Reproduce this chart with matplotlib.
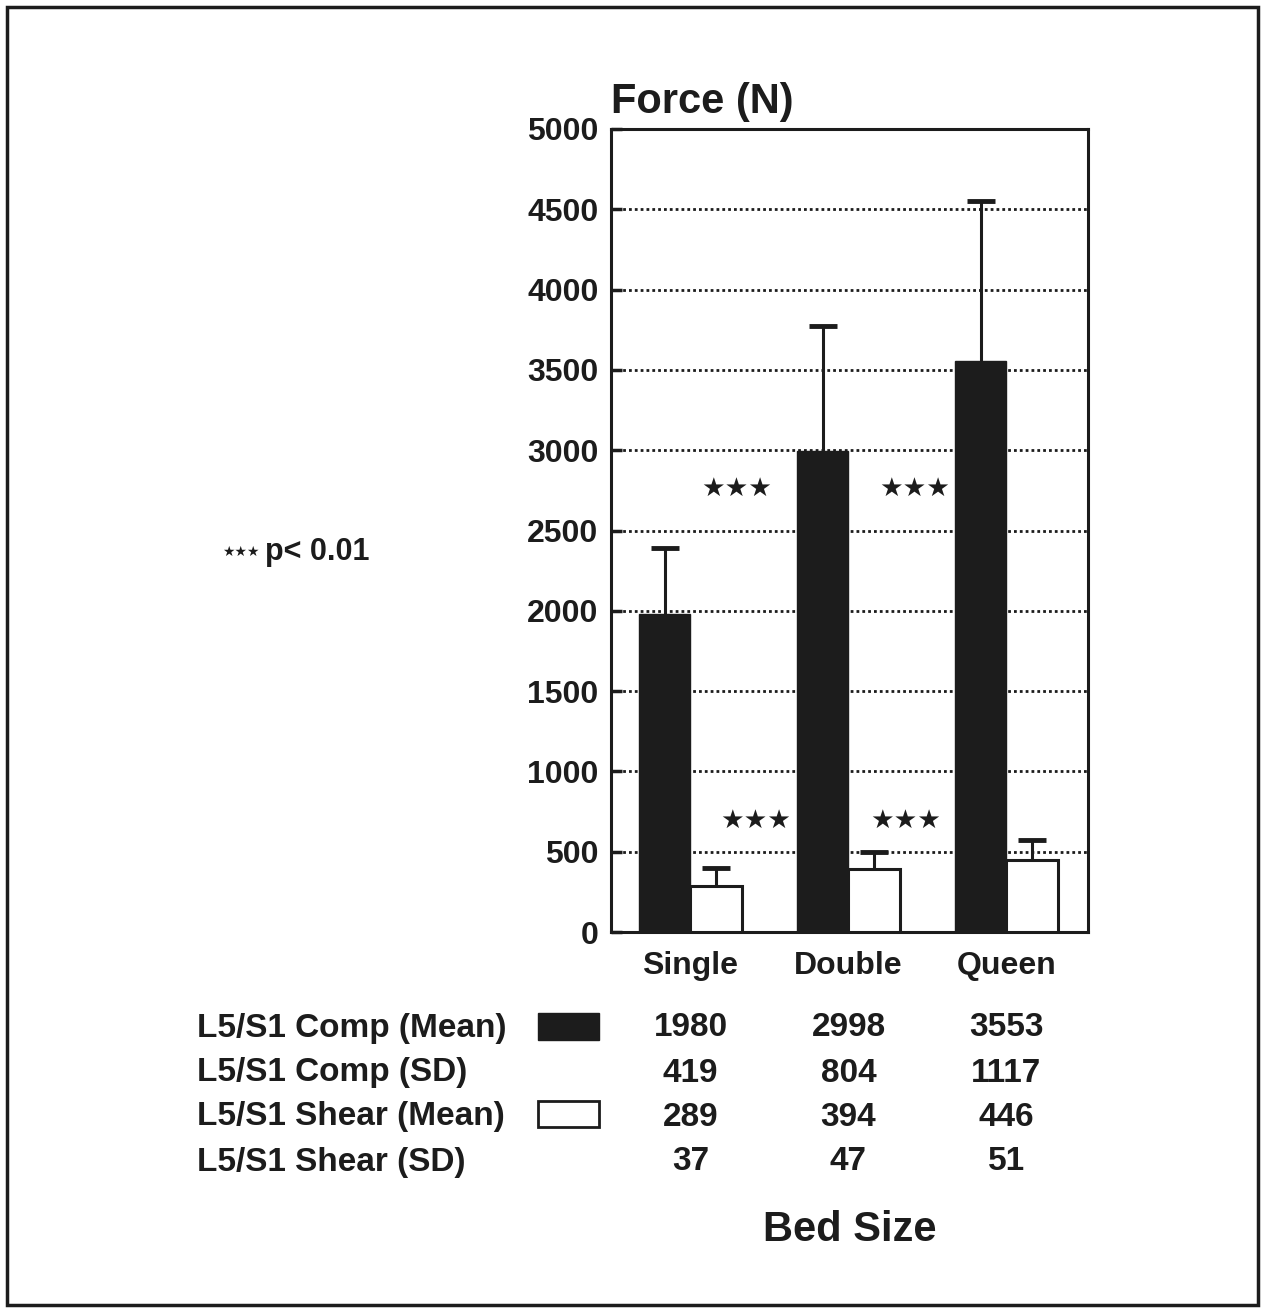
import matplotlib.pyplot as plt
from matplotlib.patches import Rectangle
from matplotlib.transforms import blended_transform_factory

plt.rcParams["font.family"] = ["Liberation Sans", "DejaVu Sans"]
plt.rcParams["font.weight"] = "bold"

# Data (table values in the figure)
beds = ["Single", "Double", "Queen"]
comp_mean = [1980, 2998, 3553]
comp_sd = [419, 804, 1117]
shear_mean = [289, 394, 446]
shear_sd = [37, 47, 51]
# error bar lengths as drawn in the figure
comp_err_drawn = [411, 775, 1000]
shear_err_drawn = [109, 104, 127]
row_labels = ["L5/S1 Comp (Mean)", "L5/S1 Comp (SD)",
              "L5/S1 Shear (Mean)", "L5/S1 Shear (SD)"]
rows = [comp_mean, comp_sd, shear_mean, shear_sd]
yticks = [0, 500, 1000, 1500, 2000, 2500, 3000, 3500, 4000, 4500, 5000]
# significance stars: (x position between groups, force level)
stars_x = [0.29, 1.42, 0.41, 1.36]
stars_y = [2760, 2760, 690, 690]

W, H = 1269, 1310
ink = "#1c1c1c"
fig = plt.figure(figsize=(W / 100, H / 100), dpi=100)
ax = fig.add_axes([611 / W, 1 - 932 / H, (1088 - 611) / W, (932 - 129) / H])

x = list(range(len(beds)))
bw = 0.323
xc = [i - bw / 2 for i in x]
xs = [i + bw / 2 for i in x]
ax.bar(xc, comp_mean, width=bw, color=ink, edgecolor=ink, lw=1, zorder=3)
ax.bar(xs, shear_mean, width=bw, color="white", edgecolor=ink, lw=2.2, zorder=3)
for xx, m, e in [(xc, comp_mean, comp_err_drawn), (xs, shear_mean, shear_err_drawn)]:
    eb = ax.errorbar(xx, m, yerr=[[0] * 3, e], fmt="none", ecolor=ink,
                     elinewidth=2.2, capsize=10, capthick=3.5, zorder=4)
    eb[1][0].set_visible(False)  # no cap at the bar top

for sx, sy in zip(stars_x, stars_y):
    ax.text(sx, sy, "★★★", family="DejaVu Sans", fontsize=19,
            ha="center", va="center", color=ink)

ax.set_xlim(-0.503, 2.516)
ax.set_ylim(0, 5000)
ax.set_yticks(yticks)
ax.set_xticks(x)
ax.set_xticklabels(beds)
ax.set_axisbelow(True)
ax.yaxis.grid(True, linestyle=(0, (1, 1.1)), color=ink, lw=2)
ax.tick_params(axis="y", direction="in", length=8, width=2.5, pad=9,
               labelsize=23, colors=ink)
ax.tick_params(axis="x", length=0, pad=14, labelsize=23, colors=ink)
for s in ax.spines.values():
    s.set_linewidth(2.2)
    s.set_color(ink)

fig.text(611 / W, 1 - 113 / H, "Force (N)", fontsize=30, va="baseline",
         ha="left", color=ink)

# table under the chart
tr = blended_transform_factory(ax.transData, fig.transFigure)
row_y = [1028, 1073, 1117, 1162]
for lab, vals, ry in zip(row_labels, rows, row_y):
    fig.text(197 / W, 1 - ry / H, lab, fontsize=24, ha="left", va="center",
             color=ink)
    for i, v in zip(x, vals):
        ax.text(i, 1 - ry / H, str(v), transform=tr, fontsize=24,
                ha="center", va="center", color=ink, clip_on=False)

fig.patches.append(Rectangle((538 / W, 1 - 1040 / H), 61 / W, 27 / H,
                             transform=fig.transFigure, facecolor=ink,
                             edgecolor=ink))
fig.patches.append(Rectangle((538 / W, 1 - 1127 / H), 61 / W, 26 / H,
                             transform=fig.transFigure, facecolor="white",
                             edgecolor=ink, lw=2))

fig.text(850 / W, 1 - 1230 / H, "Bed Size", fontsize=30, ha="center",
         va="center", color=ink)

fig.text(222 / W, 1 - 552 / H, "★★★", family="DejaVu Sans", fontsize=10,
         ha="left", va="center", color=ink)
fig.text(265 / W, 1 - 552 / H, "p< 0.01", fontsize=22, ha="left",
         va="center", color=ink)

# outer frame
fig.patches.append(Rectangle((7 / W, 1 - 1305 / H), 1251 / W, 1298 / H,
                             transform=fig.transFigure, fill=False,
                             edgecolor=ink, lw=2.5))

fig.savefig("out.png", dpi=100, facecolor="white")
